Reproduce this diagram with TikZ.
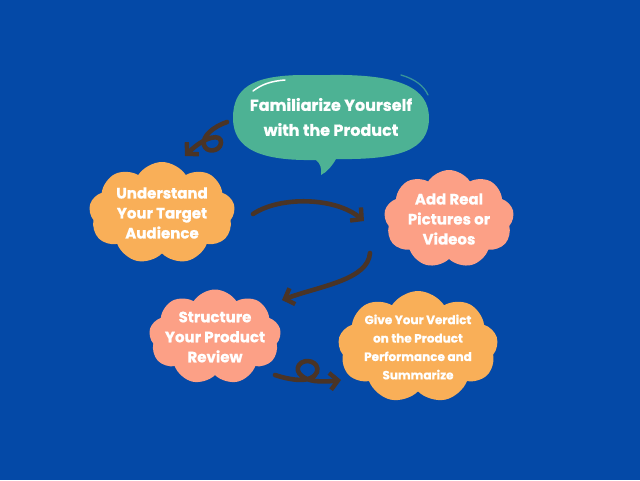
\documentclass[tikz,border=0pt]{standalone}
\usepackage{fontspec}
\setmainfont{Poppins}[BoldFeatures={FakeBold=0.8}]
\usetikzlibrary{shapes.symbols,arrows.meta}
\definecolor{bg}{HTML}{0449A7}
\definecolor{teal}{HTML}{4DB294}
\definecolor{orng}{HTML}{F9AF58}
\definecolor{salm}{HTML}{FCA086}
\definecolor{brn}{HTML}{4A3426}
\begin{document}
\begin{tikzpicture}[x=1pt,y=-1pt,
  cl/.style={cloud, cloud puffs=9, cloud puff arc=115, cloud ignores aspect, draw=none, inner sep=0pt},
  ctext/.style={text=white, font=\bfseries\fontsize{15}{20}\selectfont, align=center, inner sep=0pt},
  arr/.style={draw=brn, line width=4.6pt, line cap=round, line join=round,
    -{Straight Barb[length=8pt,width=17pt,line width=4.4pt]}},
  lbl/.style={text=white, font=\bfseries\fontsize{16}{25}\selectfont, align=center}]
\fill[bg] (0,0) rectangle (640,480);
\useasboundingbox (0,0) rectangle (640,480);
% speech bubble
\fill[teal] (330,75) .. controls (400,74) and (429,88) .. (429,118)
  .. controls (429,150) and (400,160) .. (336,159)
  .. controls (332,166) and (327,172) .. (321,175)
  .. controls (322,168) and (320,163) .. (316,160)
  .. controls (262,161) and (233,150) .. (233,118)
  .. controls (233,88) and (252,76) .. (300,75) -- cycle;
\draw[white, line width=1.5pt, line cap=round] (253,91) .. controls (262,84) and (272,81) .. (285,80);
\draw[teal!70!bg, line width=1.3pt, line cap=round] (401,75) .. controls (415,79) and (424,86) .. (428,95);
\node[lbl] (f) at (331,117) {Familiarize Yourself\\with the Product};
% clouds
\node[cl, fill=orng, minimum width=146pt, minimum height=102pt] (u) at (162,213) {};
\node[ctext] (ut) at (u.center) {Understand\\Your Target\\Audience};
\node[cl, fill=salm, minimum width=130pt, minimum height=98pt] (a) at (449,219) {};
\node[ctext] (at) at (a.center) {Add Real\\Pictures or\\Videos};
\node[cl, fill=salm, minimum width=132pt, minimum height=95pt] (s) at (215,337) {};
\node[ctext] (st) at (s.center) {Structure\\Your Product\\Review};
\node[cl, fill=orng, minimum width=160pt, minimum height=112pt] (g) at (418,347) {};
\node[ctext, font=\bfseries\fontsize{12}{18.4}\selectfont] (gt) at (g.center) {Give Your Verdict\\on the Product\\Performance and\\Summarize};
% connectors
\coordinate (c1) at (227,122);
\coordinate (c2) at (185,156);
\draw[arr] (c1) .. controls (213,127) and (202,136) .. (204,145)
  .. controls (206,153) and (220,152) .. (221,143)
  .. controls (222,133) and (205,136) .. (c2);
\coordinate (c3) at (253,214);
\coordinate (c4) at (364,221);
\draw[arr] (c3) .. controls (280,196) and (335,197) .. (c4);
\coordinate (c5) at (370,253);
\coordinate (c6) at (282,300);
\draw[arr] (c5) .. controls (368,280) and (320,286) .. (c6);
\coordinate (c7) at (275,375);
\coordinate (c8) at (341,380);
\draw[arr] (c7) .. controls (290,380) and (312,384) .. (317,372)
  .. controls (320,362) and (305,357) .. (299,365)
  .. controls (294,373) and (305,380) .. (315,381)
  .. controls (325,382) and (333,381) .. (c8);
\end{tikzpicture}
\end{document}
